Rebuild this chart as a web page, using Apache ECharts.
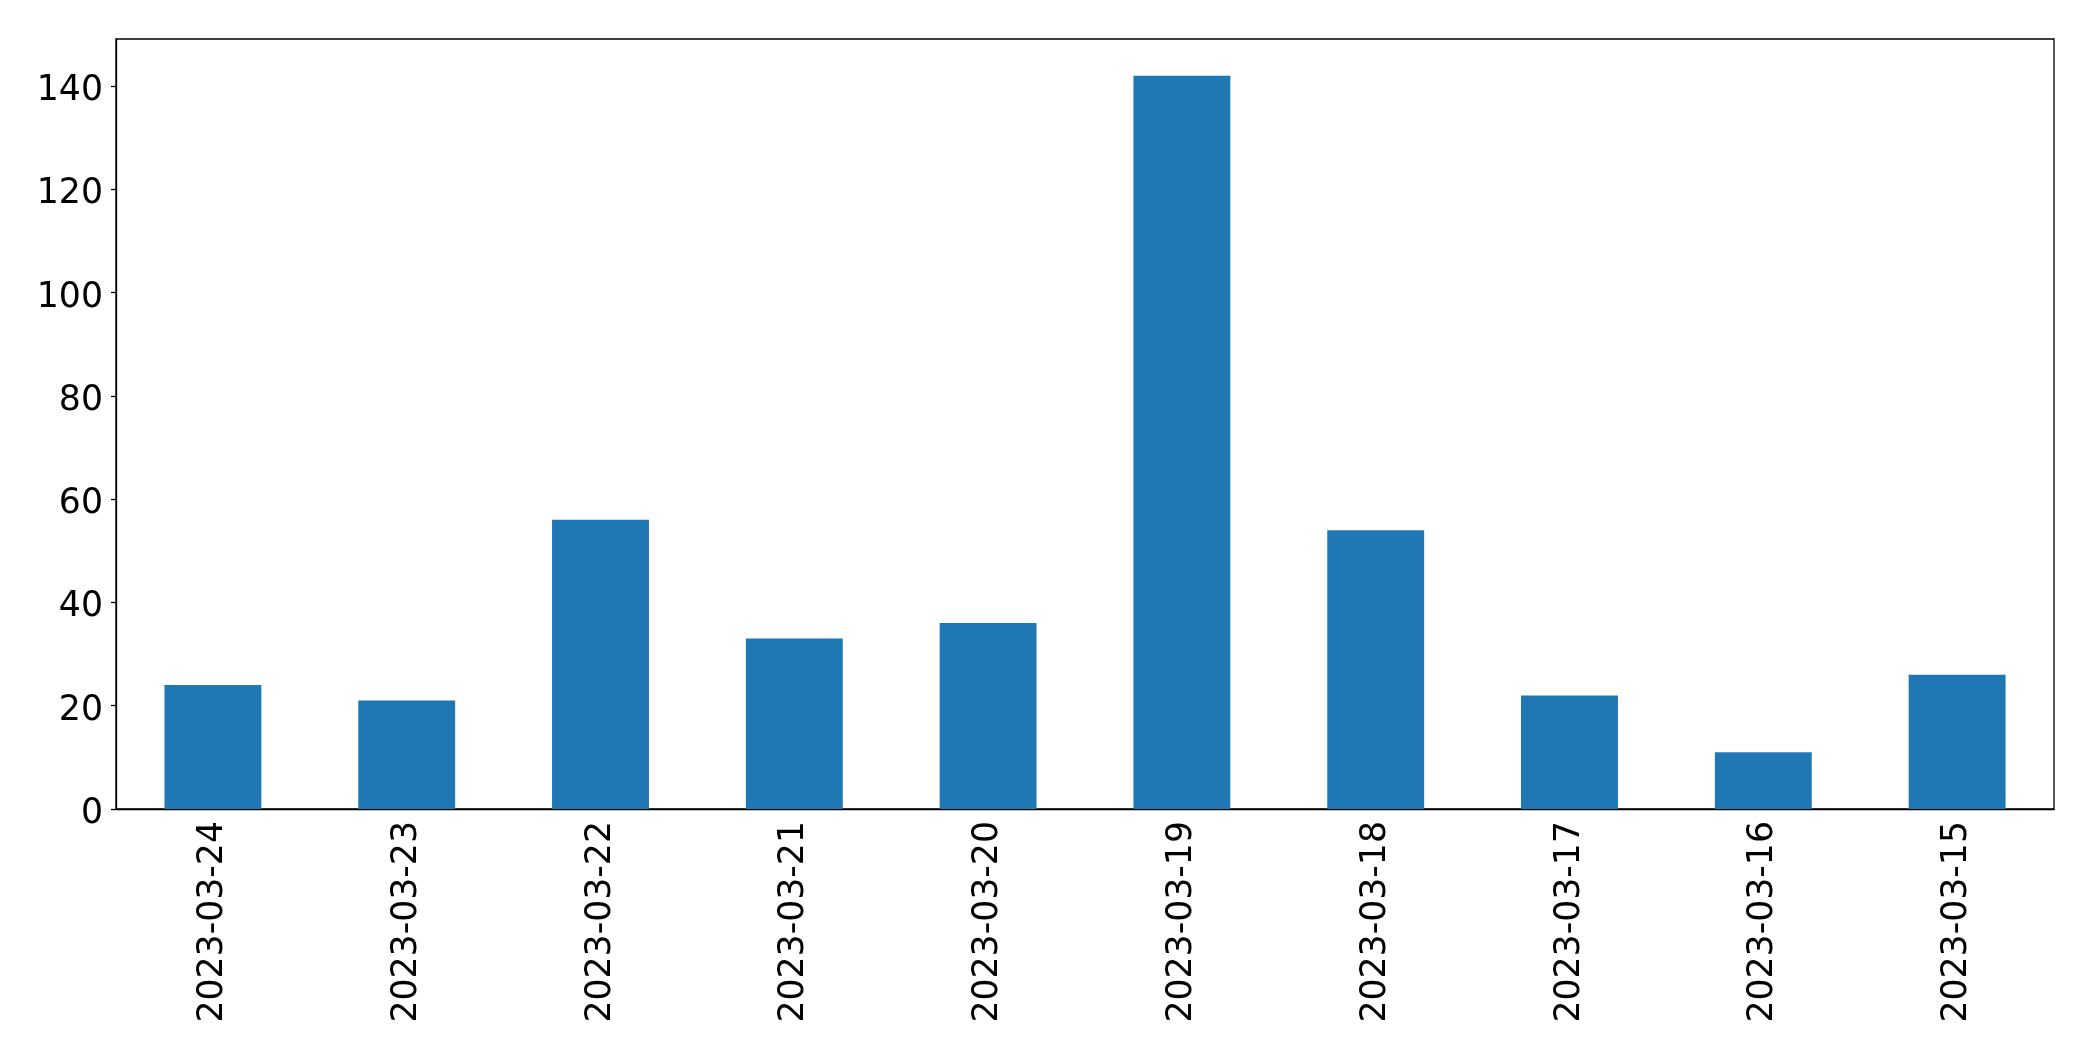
<!DOCTYPE html>
<html>
<head>
<meta charset="utf-8">
<script src="https://cdn.jsdelivr.net/npm/echarts@6/dist/echarts.min.js"></script>
<style>
html,body{margin:0;padding:0;background:#fff;}
#chart{width:2093px;height:1061px;}
</style>
</head>
<body>
<div id="chart"></div>
<script>
const categories = ["2023-03-24","2023-03-23","2023-03-22","2023-03-21","2023-03-20","2023-03-19","2023-03-18","2023-03-17","2023-03-16","2023-03-15"];
const values = [24, 21, 56, 33, 36, 142, 54, 22, 11, 26];
const yMin = 0;
const yMax = 149.1;
const yInterval = 20;

const chart = echarts.init(document.getElementById('chart'), null, {renderer: 'canvas'});
const font = 'DejaVu Sans';
chart.setOption({
  animation: false,
  backgroundColor: '#ffffff',
  grid: {
    left: 116, right: 39, top: 39, bottom: 252,
    show: true, borderColor: '#000', borderWidth: 1.3, containLabel: false
  },
  xAxis: {
    type: 'category',
    data: categories,
    boundaryGap: true,
    axisLine: {lineStyle: {color: '#000', width: 1.3}},
    axisTick: {alignWithLabel: true, length: 5, lineStyle: {color: '#000', width: 1.3}},
    axisLabel: {rotate: 90, margin: 12, color: '#000', fontFamily: font, fontSize: 34.7, interval: 0}
  },
  yAxis: {
    type: 'value',
    min: yMin, max: yMax, interval: yInterval,
    splitLine: {show: false},
    axisLine: {show: true, lineStyle: {color: '#000', width: 1.3}},
    axisTick: {show: true, length: 5, lineStyle: {color: '#000', width: 1.3}},
    axisLabel: {
      margin: 13, color: '#000', fontFamily: font, fontSize: 34.7, showMaxLabel: false,
      formatter: '{a|{value}}',
      rich: {a: {fontFamily: font, fontSize: 34.7, color: '#000', padding: [10, 0, 0, 0]}}
    }
  },
  series: [{
    type: 'bar',
    data: values,
    barCategoryGap: '50%',
    itemStyle: {color: '#1f77b4'}
  }]
});
</script>
</body>
</html>
